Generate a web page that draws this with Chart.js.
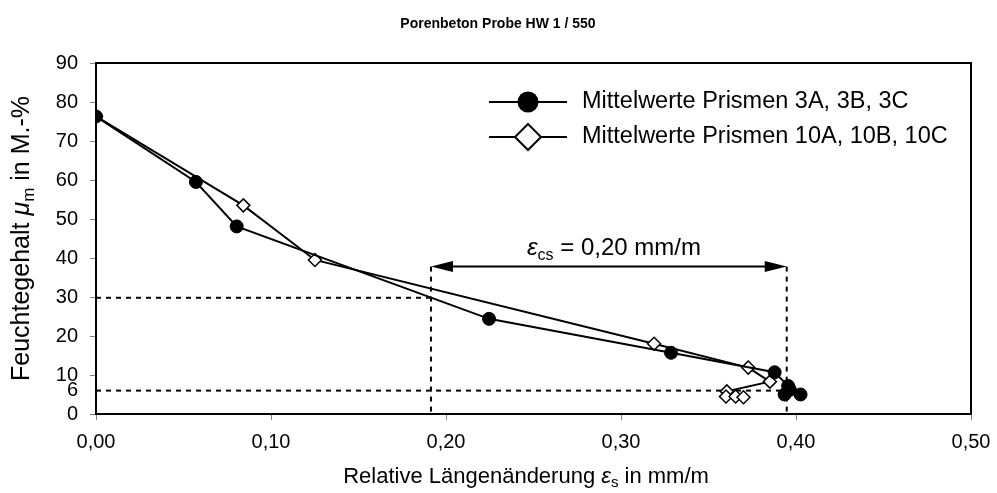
<!DOCTYPE html>
<html>
<head>
<meta charset="utf-8">
<script src="https://cdn.jsdelivr.net/npm/chart.js@4/dist/chart.umd.min.js"></script>
<style>
  html, body { margin: 0; padding: 0; background: #fff; }
  #wrap { width: 997px; height: 493px; position: relative; }
</style>
</head>
<body>
<div id="wrap"><canvas id="myChart"></canvas></div>
<script>
// Mittelwerte Prismen 3A, 3B, 3C
const strain3 = [0, 0.0571, 0.0804, 0.2246, 0.3286, 0.3878, 0.3955, 0.3935, 0.3965, 0.4026];
const moist3 = [76.3, 59.5, 48.1, 24.4, 15.7, 10.7, 7.2, 5.0, 6.2, 5.0];

// Mittelwerte Prismen 10A, 10B, 10C
const strain10 = [0, 0.0842, 0.1251, 0.3189, 0.3727, 0.3851, 0.3605, 0.3600, 0.3655, 0.3700];
const moist10 = [76.3, 53.5, 39.5, 18.0, 11.9, 8.3, 5.8, 4.5, 4.5, 4.3];

const seriesNames = ['Mittelwerte Prismen 3A, 3B, 3C', 'Mittelwerte Prismen 10A, 10B, 10C'];

const xTicks = [0, 0.1, 0.2, 0.3, 0.4, 0.5];
const yTicks = [0, 6, 10, 20, 30, 40, 50, 60, 70, 80, 90];

// shrinkage window eps_cs between the two moisture levels
const epsLeft = 0.1914;
const epsRight = 0.3947;
const arrowLevel = 37.8;
const moistHigh = 29.8;
const moistLow = 6;

const FONT = '"Liberation Sans", Arial, sans-serif';

function toPoints(xs, ys) {
    return xs.map((x, i) => ({x: x, y: ys[i]}));
}

function dashed(points) {
    return {
        data: points,
        showLine: true,
        borderColor: '#000',
        borderWidth: 2,
        borderDash: [5, 5],
        pointRadius: 0,
        order: 5
    };
}

// mixed-font text runs: [text, italic, subscript]
function drawRuns(ctx, runs, size, cx, cy) {
    const parts = runs.map(r => {
        const s = r[2] ? Math.round(size * 0.68) : size;
        const f = (r[1] ? 'italic ' : '') + s + 'px ' + FONT;
        ctx.font = f;
        return {text: r[0], font: f, w: ctx.measureText(r[0]).width, sub: r[2]};
    });
    const total = parts.reduce((a, p) => a + p.w, 0);
    let x = cx - total / 2;
    ctx.textBaseline = 'alphabetic';
    ctx.textAlign = 'left';
    parts.forEach(p => {
        ctx.font = p.font;
        ctx.fillText(p.text, x, cy + (p.sub ? size * 0.2 : 0));
        x += p.w;
    });
}

const decorations = {
    id: 'decorations',
    afterDraw(chart) {
        const ctx = chart.ctx;
        const a = chart.chartArea;
        const xs = chart.scales.x, ys = chart.scales.y;
        ctx.save();
        ctx.fillStyle = '#000';
        ctx.strokeStyle = '#000';

        // frame top/right
        ctx.lineWidth = 2;
        ctx.beginPath();
        ctx.moveTo(a.left, a.top);
        ctx.lineTo(a.right, a.top);
        ctx.lineTo(a.right, a.bottom);
        ctx.stroke();

        // title
        ctx.font = 'bold 14px ' + FONT;
        ctx.textAlign = 'center';
        ctx.textBaseline = 'middle';
        ctx.fillText('Porenbeton Probe HW 1 / 550', 498, 24);

        // axis titles
        drawRuns(ctx, [['Relative Längenänderung ', false, false], ['ε', true, false], ['s', false, true], [' in mm/m', false, false]], 22, 526, 483);
        ctx.save();
        ctx.translate(29, (a.top + a.bottom) / 2);
        ctx.rotate(-Math.PI / 2);
        drawRuns(ctx, [['Feuchtegehalt ', false, false], ['μ', true, false], ['m', false, true], [' in M.-%', false, false]], 25, 0, 0);
        ctx.restore();

        // double arrow
        const xl = xs.getPixelForValue(epsLeft);
        const xr = xs.getPixelForValue(epsRight);
        const ya = ys.getPixelForValue(arrowLevel);
        ctx.lineWidth = 2;
        ctx.beginPath();
        ctx.moveTo(xl + 10, ya);
        ctx.lineTo(xr - 10, ya);
        ctx.stroke();
        ctx.beginPath();
        ctx.moveTo(xl, ya);
        ctx.lineTo(xl + 22, ya - 5.5);
        ctx.lineTo(xl + 22, ya + 5.5);
        ctx.closePath();
        ctx.moveTo(xr, ya);
        ctx.lineTo(xr - 22, ya - 5.5);
        ctx.lineTo(xr - 22, ya + 5.5);
        ctx.closePath();
        ctx.fill();
        drawRuns(ctx, [['ε', true, false], ['cs', false, true], [' = 0,20 mm/m', false, false]], 24, 614, 255);

        // legend
        const rows = [102, 137];
        chart.data.datasets.slice(0, 2).forEach((ds, i) => {
            const y = rows[i];
            ctx.lineWidth = 2;
            ctx.strokeStyle = '#000';
            ctx.beginPath();
            ctx.moveTo(489, y);
            ctx.lineTo(567, y);
            ctx.stroke();
            ctx.beginPath();
            if (ds.pointStyle === 'circle') {
                ctx.arc(528, y, 10.5, 0, Math.PI * 2);
                ctx.fillStyle = '#000';
                ctx.fill();
            } else {
                ctx.moveTo(528, y - 13);
                ctx.lineTo(541, y);
                ctx.lineTo(528, y + 13);
                ctx.lineTo(515, y);
                ctx.closePath();
                ctx.fillStyle = '#fff';
                ctx.fill();
                ctx.lineWidth = 2;
                ctx.stroke();
            }
            ctx.fillStyle = '#000';
            ctx.font = '23.5px ' + FONT;
            ctx.textAlign = 'left';
            ctx.textBaseline = 'middle';
            ctx.fillText(ds.label, 582, y);
        });
        ctx.restore();
    }
};

new Chart(document.getElementById('myChart'), {
    type: 'scatter',
    data: {
        datasets: [
            {
                label: seriesNames[0],
                data: toPoints(strain3, moist3),
                showLine: true,
                borderColor: '#000',
                borderWidth: 2,
                pointStyle: 'circle',
                pointRadius: 6.5,
                pointBackgroundColor: '#000',
                pointBorderColor: '#000',
                pointBorderWidth: 1,
                order: 0
            },
            {
                label: seriesNames[1],
                data: toPoints(strain10, moist10),
                showLine: true,
                borderColor: '#000',
                borderWidth: 2,
                pointStyle: 'rectRot',
                pointRadius: 6.5,
                pointBackgroundColor: '#fff',
                pointBorderColor: '#000',
                pointBorderWidth: 1.5,
                order: 1
            },
            dashed([{x: 0, y: moistHigh}, {x: epsLeft, y: moistHigh}]),
            dashed([{x: epsLeft, y: arrowLevel}, {x: epsLeft, y: 0}]),
            dashed([{x: 0, y: moistLow}, {x: epsRight, y: moistLow}]),
            dashed([{x: epsRight, y: arrowLevel}, {x: epsRight, y: 0}])
        ]
    },
    options: {
        responsive: true,
        maintainAspectRatio: false,
        animation: false,
        layout: {padding: {top: 63, right: 26, left: 0, bottom: 0}},
        plugins: {
            legend: {display: false},
            tooltip: {enabled: false},
            title: {display: false}
        },
        scales: {
            x: {
                type: 'linear',
                min: 0,
                max: 0.5,
                afterBuildTicks: s => { s.ticks = xTicks.map(v => ({value: v})); },
                afterFit: s => { s.height = 79; s.paddingLeft = 0; s.paddingRight = 0; },
                ticks: {
                    color: '#000',
                    font: {family: FONT, size: 20},
                    padding: 10,
                    maxRotation: 0,
                    callback: v => v.toFixed(2).replace('.', ',')
                },
                grid: {drawOnChartArea: false, drawTicks: true, tickLength: 6, color: '#808080'},
                border: {display: true, color: '#000', width: 2}
            },
            y: {
                type: 'linear',
                min: 0,
                max: 90,
                afterBuildTicks: s => { s.ticks = yTicks.map(v => ({value: v})); },
                afterFit: s => { s.width = 96; },
                ticks: {
                    color: '#000',
                    font: {family: FONT, size: 20},
                    padding: 12,
                    callback: v => String(v)
                },
                grid: {
                    drawOnChartArea: false,
                    drawTicks: true,
                    tickLength: 6,
                    color: c => (c.tick && c.tick.value === 6) ? 'rgba(0,0,0,0)' : '#808080'
                },
                border: {display: true, color: '#000', width: 2}
            }
        }
    },
    plugins: [decorations]
});
</script>
</body>
</html>
